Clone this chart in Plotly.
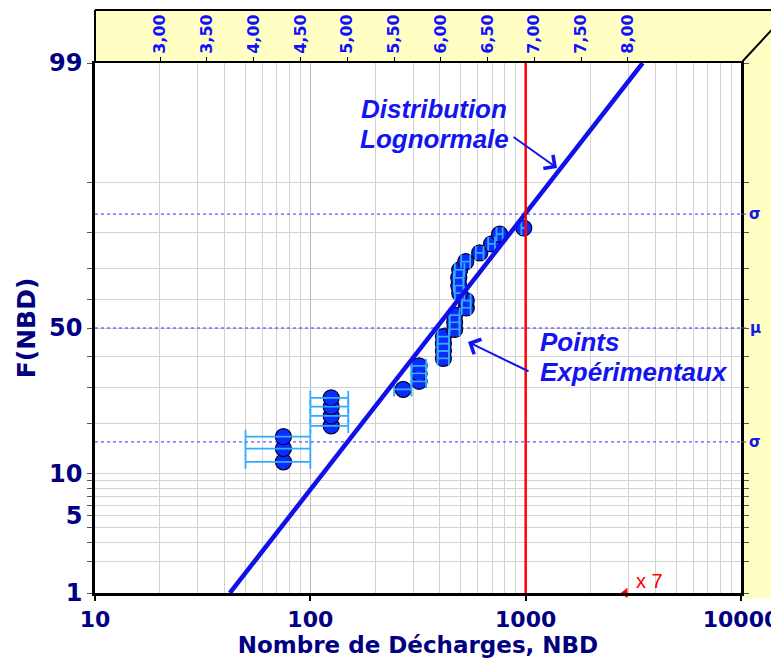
import math
from statistics import NormalDist
import plotly.graph_objects as go

# ---------------- data ----------------
NBD = [75, 75, 75,
       125, 125, 125, 125,
       270,
       320, 320, 320,
       415, 415, 415, 415,
       468, 468, 468, 530, 530, 494, 489, 489, 494, 527, 612, 695, 757, 980]
F_PCT = [12.0, 14.5, 17.0,
         19.5, 22.0, 24.5, 27.0,
         29.5,
         32.0, 34.5, 37.0,
         39.5, 42.0, 44.5, 47.0,
         49.5, 52.0, 54.5, 57.0, 59.5, 62.0, 64.5, 67.0, 69.5, 72.0, 74.5, 77.0, 79.5, 81.0]
NBD_ERR = [25, 25, 25,
           25, 25, 25, 25,
           25,
           25, 25, 25,
           25, 25, 25, 25,
           25, 25, 25, 25, 25, 25, 25, 25, 25, 25, 25, 25, 25, 25]

FIT_NBD = [42.3, 3493.0]      # fitted lognormal line end points
FIT_PCT = [1.0, 99.0]

RED_NBD = 1000
X7_NBD = 2900

X_TICKS = [10, 100, 1000, 10000]
X_TICK_TEXT = ["10", "100", "1000", "10000"]
X_MINOR = [m * 10 ** k for k in (1, 2, 3) for m in range(2, 10)]

LN_TICKS = [3.0, 3.5, 4.0, 4.5, 5.0, 5.5, 6.0, 6.5, 7.0, 7.5, 8.0]
LN_TICK_TEXT = ["3,00", "3,50", "4,00", "4,50", "5,00", "5,50", "6,00", "6,50", "7,00", "7,50", "8,00"]

Y_GRID_PCT = [1, 2, 3, 4, 5, 6, 7, 8, 9, 10, 20, 30, 40, 50, 60, 70, 80, 90, 99]
Y_LABELLED = {1: "1", 5: "5", 10: "10", 50: "50", 99: "99"}

SIGMA_Z = [1.0, 0.0, -1.0]
SIGMA_TEXT = ["σ", "μ", "σ"]

# ---------------- helpers ----------------
nd = NormalDist()


def zq(p):
    return nd.inv_cdf(p / 100.0)


NAVY = "#000080"
BLUE = "#1414F0"
YELLOW = "#FFFFC4"
Z_MIN, Z_MAX = zq(1), zq(99)

fig = go.Figure()

# sigma / mu dotted lines
for zz in SIGMA_Z:
    fig.add_trace(go.Scatter(x=[10, 10000], y=[zz, zz], mode="lines",
                             line=dict(color="#3030FF", width=1, dash="dot"),
                             hoverinfo="skip"))

# experimental points
yz = [zq(p) for p in F_PCT]
fig.add_trace(go.Scatter(x=NBD, y=yz, mode="markers",
                         marker=dict(size=16, color="#0A2CFF",
                                     line=dict(color="#000030", width=1.2)),
                         hoverinfo="skip"))
# error bars drawn on top of the markers
fig.add_trace(go.Scatter(x=NBD, y=yz, mode="markers",
                         marker=dict(size=2, opacity=0),
                         error_x=dict(type="data", array=NBD_ERR, color="#33AAFF",
                                      thickness=1.8, width=7),
                         hoverinfo="skip"))

# fitted lognormal distribution
fig.add_trace(go.Scatter(x=FIT_NBD, y=[zq(p) for p in FIT_PCT], mode="lines",
                         line=dict(color="#1010E8", width=4.5), hoverinfo="skip"))

# red vertical line
fig.add_trace(go.Scatter(x=[RED_NBD, RED_NBD], y=[Z_MIN, Z_MAX], mode="lines",
                         line=dict(color="#FF0000", width=2.5), hoverinfo="skip"))

# x7 marker
fig.add_trace(go.Scatter(x=[X7_NBD], y=[Z_MIN], mode="markers", cliponaxis=False,
                         marker=dict(symbol="triangle-left", size=9, color="#FF0000"),
                         hoverinfo="skip"))

# dummy trace for top ln axis
fig.add_trace(go.Scatter(x=[10, 10000], y=[0, 0], xaxis="x2", mode="markers",
                         marker=dict(opacity=0), hoverinfo="skip"))

# ---------------- layout ----------------
# (the page body adds an 8px offset, margins are compensated)
fig.update_layout(
    width=779, height=660,
    margin=dict(l=87, r=46, t=55, b=75, autoexpand=False),
    showlegend=False,
    plot_bgcolor="white", paper_bgcolor="white",
    xaxis=dict(
        type="log", range=[1, 4], automargin=False,
        tickmode="array", tickvals=X_TICKS, ticktext=X_TICK_TEXT,
        ticklabeloverflow="allow",
        tickfont=dict(family="DejaVu Sans", size=22, color=NAVY, weight="bold"),
        showgrid=True, gridcolor="#B8B8B8", gridwidth=1,
        minor=dict(tickmode="array", tickvals=X_MINOR, showgrid=True,
                   gridcolor="#D2D2D2", gridwidth=1, ticks=""),
        showline=True, linecolor="black", linewidth=2.5,
        ticks="outside", ticklen=5, tickcolor="black", tickwidth=2,
        zeroline=False,
        title=dict(text="Nombre de Décharges, NBD", standoff=4,
                   font=dict(family="DejaVu Sans", size=23, color=NAVY, weight="bold")),
    ),
    xaxis2=dict(
        type="log", range=[1, 4], overlaying="x", side="top", anchor="y",
        automargin=False,
        tickmode="array", tickvals=[math.exp(v) for v in LN_TICKS], ticktext=LN_TICK_TEXT,
        tickangle=-90, ticklabeloverflow="allow",
        tickfont=dict(family="DejaVu Sans", size=16, color="#1010FF", weight="bold"),
        showgrid=False, zeroline=False,
        showline=True, linecolor="black", linewidth=2,
        ticks="outside", ticklen=4, tickcolor="black",
    ),
    yaxis=dict(
        range=[Z_MIN, Z_MAX], automargin=False,
        tickmode="array", tickvals=[zq(p) for p in Y_GRID_PCT],
        ticktext=[Y_LABELLED.get(p, "") for p in Y_GRID_PCT],
        ticklabeloverflow="allow",
        tickfont=dict(family="DejaVu Sans", size=24, color=NAVY, weight="bold"),
        showgrid=True, gridcolor="#D2D2D2", gridwidth=1,
        zeroline=False,
        showline=True, linecolor="black", linewidth=2.5, mirror="ticks",
        ticks="outside", ticklen=5, tickcolor="#555555",
        title=dict(text="F(NBD)", standoff=7,
                   font=dict(family="DejaVu Sans", size=25, color=NAVY, weight="bold")),
    ),
)

# yellow 3-D frame
fig.add_shape(type="rect", xref="paper", yref="paper", x0=0, x1=1.07, y0=1.0, y1=1.1,
              fillcolor=YELLOW, line=dict(width=0), layer="below")
fig.add_shape(type="rect", xref="paper", yref="paper", x0=1.0, x1=1.07, y0=-0.01, y1=1.1,
              fillcolor=YELLOW, line=dict(width=0), layer="below")
fig.add_shape(type="line", xref="paper", yref="paper", x0=0, x1=1.07, y0=1.1, y1=1.1,
              line=dict(color="black", width=2))
fig.add_shape(type="line", xref="paper", yref="paper", x0=0, x1=0, y0=1.0, y1=1.1,
              line=dict(color="black", width=2))
fig.add_shape(type="line", xref="paper", yref="paper", x0=1.0, x1=1.0588, y0=1.0, y1=1.0774,
              line=dict(color="black", width=2))

# sigma / mu labels on the right
for zz, t in zip(SIGMA_Z, SIGMA_TEXT):
    fig.add_shape(type="line", xref="paper", yref="y", x0=1.0, x1=1.008, y0=zz, y1=zz,
                  line=dict(color="#555555", width=1))
    fig.add_annotation(xref="paper", yref="y", x=1.0217, y=zz, text=t, showarrow=False,
                       xanchor="center", yanchor="middle",
                       font=dict(family="DejaVu Sans", size=15, color="#1414F0", weight="bold"))

# text annotations
ann_font = dict(family="Liberation Sans", size=26, color=BLUE, weight="bold", style="italic")
fig.add_annotation(xref="paper", yref="paper", x=0.5248, y=0.9453, text="Distribution",
                   showarrow=False, xanchor="center", font=ann_font)
fig.add_annotation(xref="paper", yref="paper", x=0.5248, y=0.8887, text="Lognormale",
                   showarrow=False, xanchor="center", font=ann_font)
fig.add_annotation(xref="paper", yref="paper", x=0.6858, y=0.4736, text="Points",
                   showarrow=False, xanchor="left", font=ann_font)
fig.add_annotation(xref="paper", yref="paper", x=0.6858, y=0.4170, text="Expérimentaux",
                   showarrow=False, xanchor="left", font=ann_font)

# arrows
fig.add_annotation(xref="paper", yref="paper", x=0.7152, y=0.8019, ax=-45, ay=-32,
                   text="", showarrow=True, arrowhead=4, arrowsize=1.6, arrowwidth=2,
                   arrowcolor=BLUE)
fig.add_annotation(xref="paper", yref="paper", x=0.5774, y=0.4736, ax=62, ay=30,
                   text="", showarrow=True, arrowhead=4, arrowsize=1.6, arrowwidth=2,
                   arrowcolor=BLUE)

# x 7 label
fig.add_annotation(xref="paper", yref="paper", x=0.859, y=0.0226, text="x 7",
                   showarrow=False, xanchor="center", yanchor="middle",
                   font=dict(family="Liberation Sans", size=20, color="#FF0000"))

fig.write_html("out.html")
